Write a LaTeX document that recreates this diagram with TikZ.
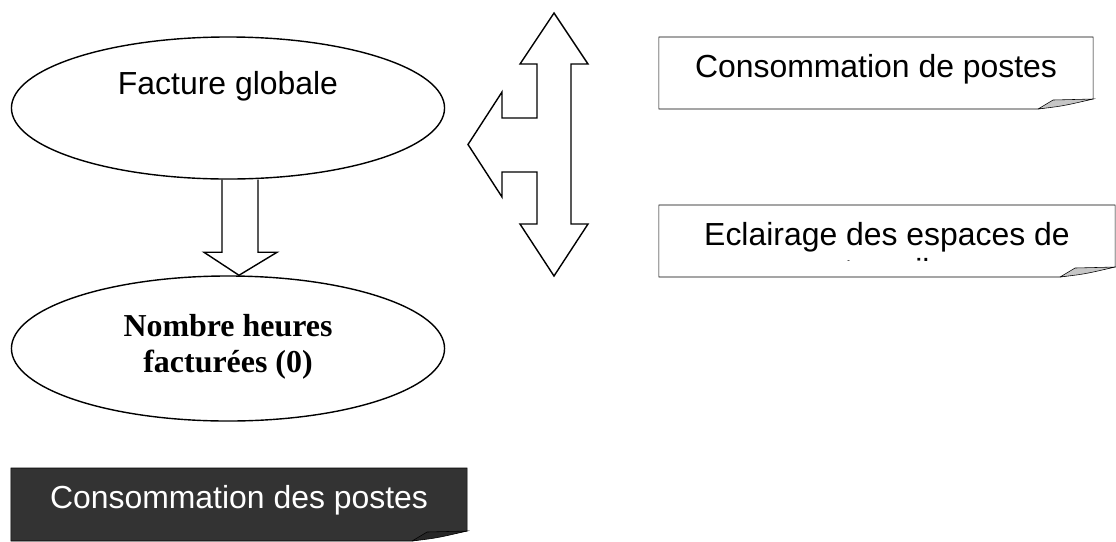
\documentclass[tikz,border=0pt]{standalone}
\usepackage{fontspec}
\setmainfont{Liberation Sans}
\newfontfamily\seriftimes{Liberation Serif}
\usetikzlibrary{shapes.geometric,calc,backgrounds}
\definecolor{sombre}{HTML}{333333}

% contour d'une note avec le coin plie en bas a droite
\newcommand{\coinplie}[3]{%
  \filldraw[fill=#2] (#1.north west) -- (#1.north east)
    -- ($(#1.south east)+(0,-10)$) -- ($(#1.south east)+(-55,0)$)
    -- (#1.south west) -- cycle;
  \filldraw[fill=#3] ($(#1.south east)+(-55,0)$) -- ($(#1.south east)+(-40,-9)$)
    -- ($(#1.south east)+(0,-10)$)
    .. controls ($(#1.south east)+(-30,-3)$) .. ($(#1.south east)+(-55,0)$);
}

\begin{document}
\begin{tikzpicture}[
        x=0.025cm, y=-0.025cm,
        line width=1pt,
        ovale/.style={
            ellipse,
            draw,
            fill=white,
            minimum width=10.825cm,
            inner sep=0pt,
            font=\fontsize{22.7}{25.6}\selectfont
        },
        note/.style={
            minimum width=10.85cm,
            minimum height=1.8cm,
            inner sep=0pt,
            outer sep=0pt,
            text height=0.6cm,
            text depth=0.4cm,
            font=\fontsize{22.7}{25.6}\selectfont
        },
        fleche/.style={draw, line join=miter}
    ]
        \useasboundingbox (0,0) rectangle (1116,541);

        \node[ovale, minimum height=3.55cm, text height=0.6cm, text depth=1.3cm]
            (facture) at (228,108) {Facture globale};

        \node[ovale, minimum height=3.625cm, align=center,
            font=\seriftimes\bfseries\fontsize{22.7}{25.6}\selectfont,
            text height=1.375cm, text depth=0.2cm]
            (heures) at (228,348.5) {Nombre heures\\facturées (0)};

        \draw[fleche] ($(facture.south)+(-6,0)$) -- ($(heures.north)+(-6,-23)$)
            -- ($(heures.north)+(-24,-23)$) -- ($(heures.north)+(11,0)$)
            -- ($(heures.north)+(49,-23)$) -- ($(heures.north)+(30,-23)$)
            -- ($(facture.south)+(30,0)$);

        % fleche haut / bas / gauche
        \draw[fleche] (554,13) -- (588,64) -- (571,64) -- (571,224) -- (588,224)
            -- (554,276) -- (520,224) -- (537,224) -- (537,172) -- (502,172)
            -- (502,197) -- (468,144.5) -- (502,92) -- (502,118) -- (537,118)
            -- (537,64) -- (520,64) -- cycle;

        \node[note] (consoposte) at (876,73) {Consommation de postes};

        \begin{scope}
            \clip (650,200) rectangle (1116,260.5);
            \node[note, minimum width=11.4cm] (eclairage) at (887,241)
            {\begin{tabular}[t]{@{}c@{}}Eclairage des espaces de\\travail\end{tabular}};
        \end{scope}

        \node[note, minimum width=11.4cm, minimum height=1.825cm, text=white]
            (consopostes) at (239,504.5) {Consommation des postes};

        \begin{scope}[on background layer]
            \coinplie{consoposte}{white}{gray!45}
            \coinplie{eclairage}{white}{gray!45}
            \coinplie{consopostes}{sombre}{black!85}
        \end{scope}
    \end{tikzpicture}
\end{document}
